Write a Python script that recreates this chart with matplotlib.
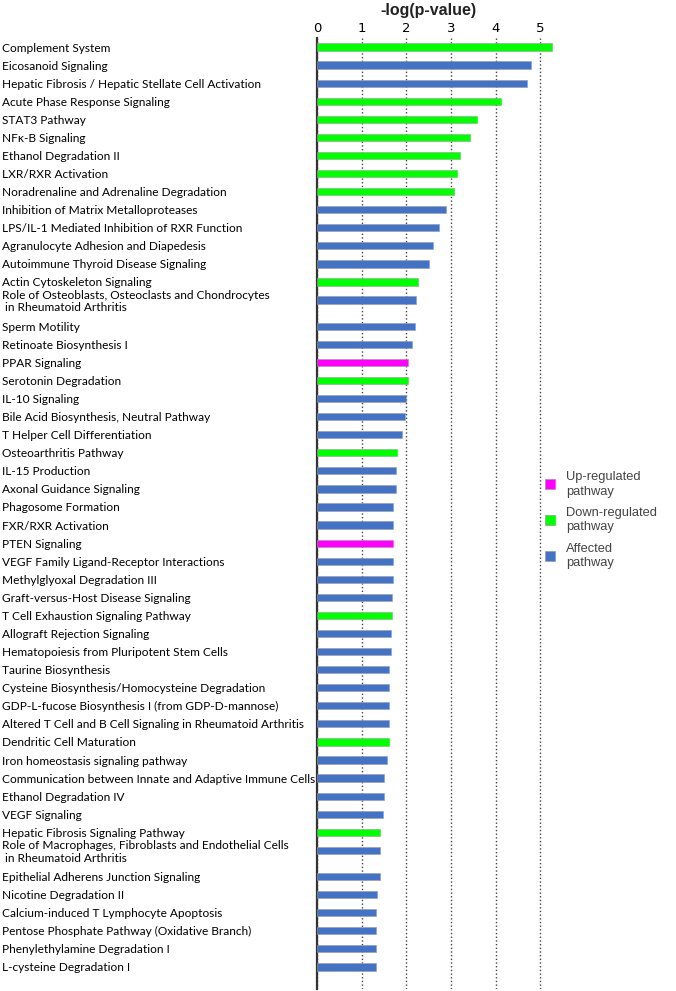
import matplotlib
matplotlib.use('Agg')
import matplotlib.pyplot as plt
from matplotlib.patches import Patch

# 通路名称、-log(p) 值以及调控类型 (U=上调, D=下调, A=受影响)
pathways = [
    'Complement System',
    'Eicosanoid Signaling',
    'Hepatic Fibrosis / Hepatic Stellate Cell Activation',
    'Acute Phase Response Signaling',
    'STAT3 Pathway',
    'NFκ-B Signaling',
    'Ethanol Degradation II',
    'LXR/RXR Activation',
    'Noradrenaline and Adrenaline Degradation',
    'Inhibition of Matrix Metalloproteases',
    'LPS/IL-1 Mediated Inhibition of RXR Function',
    'Agranulocyte Adhesion and Diapedesis',
    'Autoimmune Thyroid Disease Signaling',
    'Actin Cytoskeleton Signaling',
    'Role of Osteoblasts, Osteoclasts and Chondrocytes\n in Rheumatoid Arthritis',
    'Sperm Motility',
    'Retinoate Biosynthesis I',
    'PPAR Signaling',
    'Serotonin Degradation',
    'IL-10 Signaling',
    'Bile Acid Biosynthesis, Neutral Pathway',
    'T Helper Cell Differentiation',
    'Osteoarthritis Pathway',
    'IL-15 Production',
    'Axonal Guidance Signaling',
    'Phagosome Formation',
    'FXR/RXR Activation',
    'PTEN Signaling',
    'VEGF Family Ligand-Receptor Interactions',
    'Methylglyoxal Degradation III',
    'Graft-versus-Host Disease Signaling',
    'T Cell Exhaustion Signaling Pathway',
    'Allograft Rejection Signaling',
    'Hematopoiesis from Pluripotent Stem Cells',
    'Taurine Biosynthesis',
    'Cysteine Biosynthesis/Homocysteine Degradation',
    'GDP-L-fucose Biosynthesis I (from GDP-D-mannose)',
    'Altered T Cell and B Cell Signaling in Rheumatoid Arthritis',
    'Dendritic Cell Maturation',
    'Iron homeostasis signaling pathway',
    'Communication between Innate and Adaptive Immune Cells',
    'Ethanol Degradation IV',
    'VEGF Signaling',
    'Hepatic Fibrosis Signaling Pathway',
    'Role of Macrophages, Fibroblasts and Endothelial Cells\n in Rheumatoid Arthritis',
    'Epithelial Adherens Junction Signaling',
    'Nicotine Degradation II',
    'Calcium-induced T Lymphocyte Apoptosis',
    'Pentose Phosphate Pathway (Oxidative Branch)',
    'Phenylethylamine Degradation I',
    'L-cysteine Degradation I',
]

values = [
    5.26, 4.79, 4.70, 4.12, 3.57, 3.42, 3.21, 3.13, 3.06, 2.89,
    2.74, 2.59, 2.51, 2.25, 2.22, 2.19, 2.12, 2.03, 2.03, 1.98,
    1.96, 1.90, 1.80, 1.77, 1.76, 1.71, 1.71, 1.71, 1.71, 1.69,
    1.67, 1.67, 1.66, 1.65, 1.60, 1.60, 1.60, 1.60, 1.60, 1.56,
    1.51, 1.49, 1.48, 1.42, 1.40, 1.40, 1.34, 1.33, 1.32, 1.32,
    1.32,
]

regulation = [
    'D', 'A', 'A', 'D', 'D', 'D', 'D', 'D', 'D', 'A',
    'A', 'A', 'A', 'D', 'A', 'A', 'A', 'U', 'D', 'A',
    'A', 'A', 'D', 'A', 'A', 'A', 'A', 'U', 'A', 'A',
    'A', 'D', 'A', 'A', 'A', 'A', 'A', 'A', 'D', 'A',
    'A', 'A', 'A', 'D', 'A', 'A', 'A', 'A', 'A', 'A',
    'A',
]

legend_labels = ['Up-regulated\npathway', 'Down-regulated\npathway', 'Affected\npathway']
xticks = [0, 1, 2, 3, 4, 5]

color_map = {'U': '#FF00FF', 'D': '#00FF00', 'A': '#4472C4'}

# 两行标签后多留一点空隙
ypos = []
y = 0.0
for name in pathways:
    ypos.append(y)
    y += 1.45 if '\n' in name else 1.0

fig = plt.figure(figsize=(6.76, 9.91), dpi=100)
ax = fig.add_axes([317 / 676, 0.00202, 236.9 / 676, 0.95964])

colors = [color_map[r] for r in regulation]
ax.barh(ypos, values, height=0.4, color=colors, edgecolor='#9a9a9a', linewidth=0.4, zorder=3)

ax.set_ylim(ypos[-1] + 1.22, ypos[0] - 0.5)
ax.set_xlim(0, 5.3)

ax.xaxis.tick_top()
ax.set_xticks(xticks)
ax.set_xticklabels([str(t) for t in xticks], fontsize=9.5, family='DejaVu Sans')
ax.tick_params(axis='x', length=0, pad=2)

# 标题放在刻度上方
fig.text(428 / 676, 1 - 11 / 991, '-log(p-value)', ha='center', va='center',
         fontsize=11.5, fontweight='bold', family='Liberation Sans', color='#222222')

ax.set_yticks(ypos)
ax.set_yticklabels(pathways, fontsize=8.6, family='Lato', ha='left', linespacing=1.15)
ax.tick_params(axis='y', length=0, pad=(317 - 2) * 0.72)

for s in ['top', 'right', 'bottom']:
    ax.spines[s].set_visible(False)
ax.spines['left'].set_linewidth(1.6)
ax.spines['left'].set_color('#333333')

ax.grid(axis='x', linestyle=':', color='#444444', linewidth=1.0, zorder=0)

handles = [Patch(facecolor=color_map[k], edgecolor='#999999', linewidth=0.5) for k in ['U', 'D', 'A']]
leg = fig.legend(handles, legend_labels, loc='upper left', bbox_to_anchor=(536 / 676, 1 - 462 / 991),
                 frameon=False, handlelength=0.8, handleheight=0.8,
                 handletextpad=0.8, labelspacing=0.7, borderpad=0.2,
                 prop={'family': 'Liberation Sans', 'size': 9.3})
for t in leg.get_texts():
    t.set_color('#444444')
    t.set_linespacing(1.3)

plt.savefig('out.png', dpi=100)
